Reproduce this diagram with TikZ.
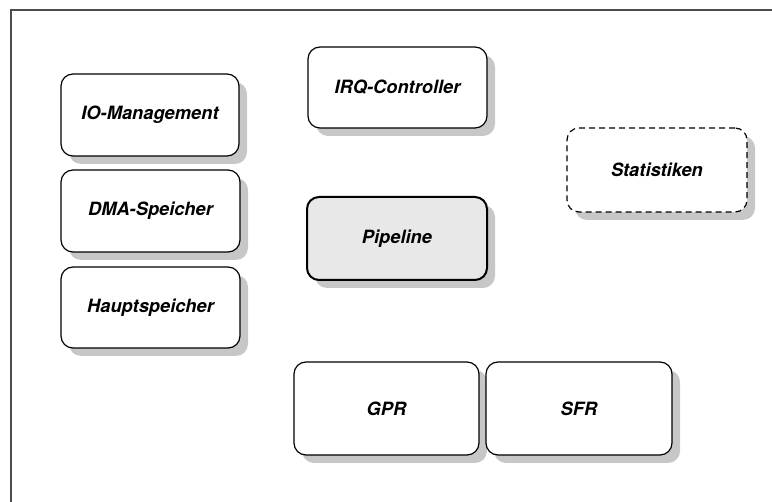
\documentclass[tikz,border=0pt]{standalone}
\usepackage{fontspec}
\setmainfont{TeX Gyre Heros}
\usetikzlibrary{shadows}
\tikzset{
  block/.style={draw=black, line width=1.2pt, rounded corners=12pt, fill=white,
    minimum width=#1, inner sep=0pt, align=center,
    font=\fontsize{18.3}{22}\selectfont\bfseries\itshape,
    drop shadow={shadow xshift=8pt, shadow yshift=-8pt, fill=black!22, opacity=1}},
  block/.default=179pt,
  active/.style={fill=black!9, line width=2pt},
  optional/.style={dashed, dash pattern=on 6pt off 4pt},
}
\begin{document}
\begin{tikzpicture}[x=1pt, y=-1pt]
  \useasboundingbox (0,0) rectangle (772,502);
  % page frame, its right and lower sides lie off the page
  \draw[black!70, line width=1.5pt] (11,502) -- (11,10) -- (772,10);

  \node[block=178pt, minimum height=82pt] (io)   at (150,115)     {IO-Management};
  \node[block, minimum height=82pt]       (dma)  at (150.5,211)   {DMA-Speicher};
  \node[block, minimum height=81pt]       (haupt) at (150.5,307.5) {Hauptspeicher};
  \node[block, minimum height=81pt]       (irq)  at (397.5,87.5)  {IRQ-Controller};
  \node[block=180pt, active, minimum height=83pt] (pipe) at (397,238.5) {Pipeline};
  \node[block=180pt, optional, minimum height=84pt] (stat) at (657,170) {Statistiken};
  \node[block=185pt, minimum height=93pt] (gpr)  at (386.5,408.5) {GPR};
  \node[block=186pt, minimum height=93pt] (sfr)  at (579,408.5)   {SFR};
\end{tikzpicture}
\end{document}
